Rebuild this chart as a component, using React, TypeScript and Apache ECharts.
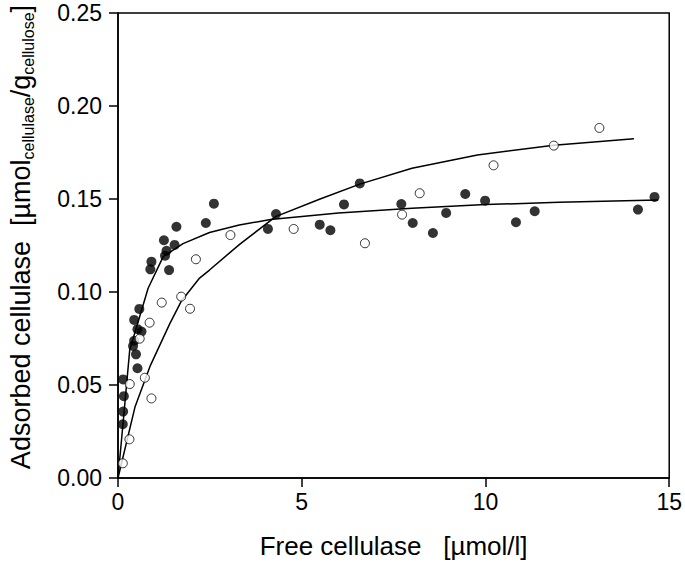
import React, { useEffect, useRef } from "react";
import * as echarts from "echarts";

// Filled circles: [free cellulase (µmol/l), adsorbed cellulase]
const filledPoints: number[][] = [
  [0.13, 0.0289], [0.14, 0.0357], [0.16, 0.044], [0.14, 0.053], [0.53, 0.059],
  [0.49, 0.0665], [0.41, 0.071], [0.44, 0.0738], [0.64, 0.0787], [0.53, 0.08],
  [0.44, 0.085], [0.58, 0.0909], [0.88, 0.1122], [0.91, 0.1163], [1.39, 0.1118],
  [1.28, 0.1195], [1.32, 0.1222], [1.25, 0.1278], [1.54, 0.1253], [1.59, 0.1351],
  [2.39, 0.1371], [2.61, 0.1475], [4.08, 0.1339], [4.3, 0.1419], [5.49, 0.1362],
  [5.78, 0.1332], [6.15, 0.1471], [6.58, 0.1584], [7.71, 0.1473], [8.02, 0.1371],
  [8.57, 0.1317], [8.93, 0.1425], [9.45, 0.1527], [9.99, 0.1491], [10.83, 0.1375],
  [11.34, 0.1434], [14.15, 0.1443], [14.6, 0.1511],
];

// Open circles
const openPoints: number[][] = [
  [0.13, 0.0079], [0.31, 0.0208], [0.91, 0.0428], [0.32, 0.0505], [0.73, 0.0539],
  [0.59, 0.0749], [0.86, 0.0835], [1.19, 0.0943], [1.72, 0.0975], [1.96, 0.091],
  [2.12, 0.1176], [3.06, 0.1306], [4.78, 0.1339], [6.72, 0.1262], [7.73, 0.1416],
  [8.21, 0.1531], [10.22, 0.1681], [11.86, 0.1787], [13.1, 0.1882],
];

// Fitted curves
const filledFit: number[][] = [
  [0, 0], [0.14, 0.03], [0.32, 0.069], [0.82, 0.102], [1.23, 0.119], [1.77, 0.126],
  [2.49, 0.132], [3.3, 0.136], [4.15, 0.139], [6, 0.1425], [8, 0.145], [10, 0.147],
  [12, 0.1482], [14.7, 0.1495],
];

const openFit: number[][] = [
  [0, 0], [0.46, 0.038], [0.87, 0.06], [1.41, 0.083], [1.72, 0.095], [2.22, 0.1075],
  [2.49, 0.1118], [3.3, 0.1255], [4.29, 0.1405], [5.5, 0.15], [6.58, 0.158], [8, 0.1665],
  [9.78, 0.1737], [11.86, 0.1789], [14.04, 0.1824],
];

const xTicks = [0, 5, 10, 15];
const yTicks = [0, 0.05, 0.1, 0.15, 0.2, 0.25];

const FONT = "Liberation Sans, Arial, sans-serif";

export default function App() {
  const ref = useRef<HTMLDivElement>(null);
  useEffect(() => {
    if (!ref.current) return;
    const chart = echarts.init(ref.current, null, { renderer: "svg" });
    chart.setOption({
      animation: false,
      backgroundColor: "#ffffff",
      grid: {
        left: 118,
        right: 12,
        top: 13,
        bottom: 87,
        show: true,
        borderColor: "#000",
        borderWidth: 1.5,
        backgroundColor: "transparent",
      },
      xAxis: {
        type: "value",
        min: xTicks[0],
        max: xTicks[xTicks.length - 1],
        interval: 5,
        axisLine: { show: true, lineStyle: { color: "#000", width: 1.5 } },
        axisTick: { show: true, length: 9, lineStyle: { color: "#000", width: 1.5 } },
        axisLabel: { color: "#000", fontSize: 23, fontFamily: FONT, margin: 12 },
        splitLine: { show: false },
        name: "Free cellulase   [\u00b5mol/l]",
        nameLocation: "middle",
        nameGap: 55,
        nameTextStyle: { color: "#000", fontSize: 26, fontFamily: FONT },
      },
      yAxis: {
        type: "value",
        min: yTicks[0],
        max: yTicks[yTicks.length - 1],
        interval: 0.05,
        axisLine: { show: true, lineStyle: { color: "#000", width: 1.5 } },
        axisTick: { show: true, length: 9, lineStyle: { color: "#000", width: 1.5 } },
        axisLabel: {
          color: "#000",
          fontSize: 23,
          fontFamily: FONT,
          margin: 16,
          formatter: (v: number) => v.toFixed(2),
        },
        splitLine: { show: false },
      },
      graphic: [
        {
          type: "text",
          x: 21,
          y: 237,
          rotation: Math.PI / 2,
          style: {
            text: "Adsorbed cellulase  [\u00b5mol{sub|cellulase}/g{sub|cellulose}]",
            fill: "#000",
            font: `27px ${FONT}`,
            fontSize: 27,
            fontFamily: FONT,
            align: "center",
            verticalAlign: "middle",
            lineHeight: 30,
            rich: {
              sub: {
                fontSize: 16,
                fontFamily: FONT,
                fill: "#000",
                lineHeight: 0,
                verticalAlign: "bottom",
              },
            },
          },
        },
      ],
      series: [
        {
          type: "line",
          data: filledFit,
          showSymbol: false,
          symbol: "none",
          lineStyle: { color: "#000", width: 1.5 },
          z: 2,
        },
        {
          type: "line",
          data: openFit,
          showSymbol: false,
          symbol: "none",
          lineStyle: { color: "#000", width: 1.5 },
          z: 2,
        },
        {
          type: "scatter",
          data: filledPoints,
          symbol: "circle",
          symbolSize: 10,
          itemStyle: { color: "#000", borderColor: "#000", borderWidth: 0 },
          z: 3,
        },
        {
          type: "scatter",
          data: openPoints,
          symbol: "circle",
          symbolSize: 9,
          itemStyle: { color: "#fff", borderColor: "#000", borderWidth: 1 },
          z: 3,
        },
      ],
    });
    return () => chart.dispose();
  }, []);
  return (
    <div
      ref={ref}
      style={{ position: "fixed", left: 0, top: 0, width: 685, height: 565 }}
    />
  );
}
